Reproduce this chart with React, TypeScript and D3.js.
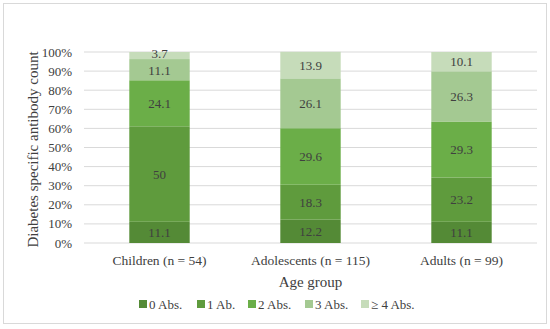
import { useMemo } from "react";
import * as d3 from "d3";

const WIDTH = 550;
const HEIGHT = 329;
const MARGIN = { top: 52, right: 13, bottom: 86, left: 84 };

const groups = ["Children (n = 54)", "Adolescents (n = 115)", "Adults (n = 99)"];
const seriesNames = ["0 Abs.", "1 Ab.", "2 Abs.", "3 Abs.", "≥ 4 Abs."];
const abs0 = [11.1, 12.2, 11.1];
const abs1 = [50, 18.3, 23.2];
const abs2 = [24.1, 29.6, 29.3];
const abs3 = [11.1, 26.1, 26.3];
const abs4 = [3.7, 13.9, 10.1];
const colors = ["#548a36", "#5f9b3d", "#6bae48", "#a4c992", "#c6dcba"];
const yTicks = [0, 10, 20, 30, 40, 50, 60, 70, 80, 90, 100];

const FONT = "'Liberation Serif', 'DejaVu Serif', serif";
const TEXT = "#404040";

export default function App() {
  const boundsWidth = WIDTH - MARGIN.left - MARGIN.right;
  const boundsHeight = HEIGHT - MARGIN.top - MARGIN.bottom;

  const rows = groups.map((g, i) => ({
    group: g,
    s0: abs0[i],
    s1: abs1[i],
    s2: abs2[i],
    s3: abs3[i],
    s4: abs4[i],
  }));
  const keys = ["s0", "s1", "s2", "s3", "s4"];

  const stacked = useMemo(() => d3.stack<any>().keys(keys)(rows), []);

  const xScale = d3.scaleBand().domain(groups).range([0, boundsWidth]).paddingInner(0.6).paddingOuter(0.3);
  const yScale = d3.scaleLinear().domain([0, 100]).range([boundsHeight, 0]);

  const legendX = [139, 197, 248, 305, 361];

  return (
    <svg width={WIDTH} height={HEIGHT} style={{ position: "absolute", left: 0, top: 0 }}>
      <rect x={0} y={0} width={WIDTH} height={HEIGHT} fill="#fff" />
      <rect x={3.5} y={3.5} width={543} height={320} fill="none" stroke="#d9d9d9" strokeWidth={1} />
      <g transform={`translate(${MARGIN.left},${MARGIN.top})`}>
        {yTicks.map((t) => (
          <g key={t}>
            <line x1={0} x2={boundsWidth} y1={yScale(t)} y2={yScale(t)} stroke="#d9d9d9" strokeWidth={1} />
            <text x={-12} y={yScale(t)} dy="0.35em" textAnchor="end" fontSize={13} fill={TEXT} fontFamily={FONT}>
              {t}%
            </text>
          </g>
        ))}
        {stacked.map((layer, si) => (
          <g key={si}>
            {layer.map((d, gi) => {
              const x = xScale(groups[gi])!;
              const y0 = yScale(d[1]);
              const y1 = yScale(d[0]);
              const val = d[1] - d[0];
              let ty = (y0 + y1) / 2;
              if (si === 4 && gi === 0) ty = y0 + 1;
              if (si === 3 && gi === 0) ty = ty + 1;
              return (
                <g key={gi}>
                  <rect x={x} y={y0} width={xScale.bandwidth()} height={y1 - y0} fill={colors[si]} />
                  <text
                    x={x + xScale.bandwidth() / 2}
                    y={ty}
                    dy="0.35em"
                    textAnchor="middle"
                    fontSize={13}
                    fill={TEXT}
                    fontFamily={FONT}
                  >
                    {Math.round(val * 10) / 10}
                  </text>
                </g>
              );
            })}
          </g>
        ))}
        {groups.map((g) => (
          <text
            key={g}
            x={xScale(g)! + xScale.bandwidth() / 2}
            y={boundsHeight + 22}
            textAnchor="middle"
            fontSize={13.5}
            fill={TEXT}
            fontFamily={FONT}
          >
            {g}
          </text>
        ))}
        <text x={boundsWidth / 2} y={boundsHeight + 44} textAnchor="middle" fontSize={15} fill={TEXT} fontFamily={FONT}>
          Age group
        </text>
      </g>
      <text
        transform={`translate(38,${MARGIN.top + boundsHeight / 2 + 2}) rotate(-90)`}
        textAnchor="middle"
        fontSize={15}
        fill={TEXT}
        fontFamily={FONT}
      >
        Diabetes specific antibody count
      </text>
      {seriesNames.map((n, i) => (
        <g key={n}>
          <rect x={legendX[i]} y={300} width={8} height={8} fill={colors[i]} />
          <text x={legendX[i] + 10} y={304} dy="0.35em" fontSize={13} fill={TEXT} fontFamily={FONT}>
            {n}
          </text>
        </g>
      ))}
    </svg>
  );
}
